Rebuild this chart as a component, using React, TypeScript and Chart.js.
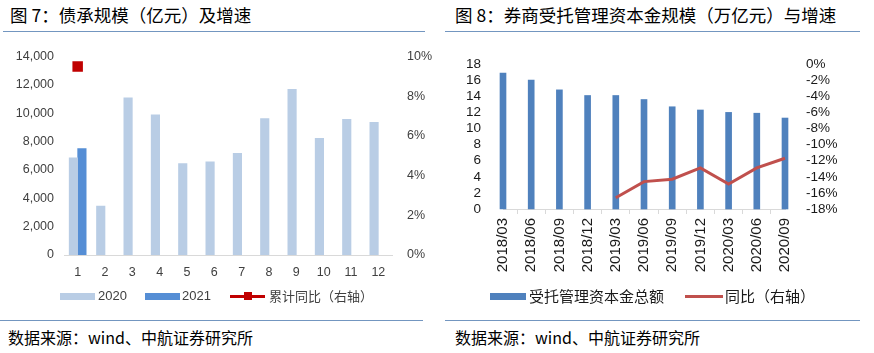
import React, { useEffect, useRef } from "react";
import { Chart, registerables } from "chart.js";

Chart.register(...registerables);

// ---------- Figure 7 data ----------
const months = ["1", "2", "3", "4", "5", "6", "7", "8", "9", "10", "11", "12"];
const issuance2020 = [6850, 3450, 11080, 9890, 6450, 6570, 7170, 9620, 11680, 8230, 9560, 9360];
const issuance2021 = [7500, null, null, null, null, null, null, null, null, null, null, null];
const cumulativeYoY = [9.5, null, null, null, null, null, null, null, null, null, null, null];

// ---------- Figure 8 data ----------
const quarters = ["2018/03", "2018/06", "2018/09", "2018/12", "2019/03", "2019/06", "2019/09", "2019/12", "2020/03", "2020/06", "2020/09"];
const entrustedCapital = [16.9, 16.0, 14.8, 14.1, 14.1, 13.6, 12.7, 12.3, 12.0, 11.9, 11.3];
const entrustedYoY = [null, null, null, null, -16.6, -14.6, -14.3, -12.9, -14.9, -12.9, -11.7];

const CJK = '"Noto Sans CJK SC", sans-serif';
const LAT = '"Liberation Sans", Arial, sans-serif';
const TICK = "#404040";
const TICK_R = "#1a1a1a";
const AXIS = "#d9d9d9";

function LeftChart() {
  const ref = useRef<HTMLCanvasElement>(null);
  useEffect(() => {
    const chart = new Chart(ref.current as HTMLCanvasElement, {
      type: "bar",
      data: {
        labels: months,
        datasets: [
          {
            type: "line",
            label: "累计同比（右轴）",
            data: cumulativeYoY,
            borderColor: "#c00000",
            backgroundColor: "#c00000",
            pointStyle: "rect",
            pointRadius: 6,
            borderWidth: 2,
            yAxisID: "y1",
            order: 0,
          } as any,
          {
            type: "bar",
            label: "2020",
            data: issuance2020,
            backgroundColor: "#b9cde5",
            barThickness: 8.5,
            yAxisID: "y",
            order: 1,
          },
          {
            type: "bar",
            label: "2021",
            data: issuance2021,
            backgroundColor: "#558ed5",
            barThickness: 8.5,
            yAxisID: "y",
            order: 1,
          },
        ],
      },
      options: {
        animation: false,
        responsive: false,
        layout: { padding: { top: 10, left: 0, right: 0, bottom: 0 } },
        plugins: { legend: { display: false }, tooltip: { enabled: false } },
        scales: {
          x: {
            offset: true,
            grid: { display: false, drawTicks: false },
            border: { display: true, color: AXIS, width: 1 },
            ticks: { color: TICK, font: { family: LAT, size: 12.5 }, padding: 10, maxRotation: 0, autoSkip: false },
            afterFit: (s: any) => { s.height = 39; },
          },
          y: {
            position: "left",
            min: 0,
            max: 14000,
            grid: { display: false, drawTicks: false },
            border: { display: false },
            ticks: {
              stepSize: 2000,
              autoSkip: false,
              color: TICK,
              font: { family: LAT, size: 12.5 },
              padding: 10,
              callback: (v: any) => Number(v).toLocaleString("en-US"),
            },
            afterFit: (s: any) => { s.width = 64; },
          },
          y1: {
            position: "right",
            min: 0,
            max: 10,
            grid: { display: false, drawTicks: false },
            border: { display: false },
            ticks: {
              stepSize: 2,
              autoSkip: false,
              color: TICK,
              font: { family: LAT, size: 12.5 },
              padding: 15,
              callback: (v: any) => v + "%",
            },
            afterFit: (s: any) => { s.width = 48; },
          },
        },
      } as any,
    });
    return () => chart.destroy();
  }, []);
  return <canvas ref={ref} width={440} height={260} style={{ position: "absolute", left: 0, top: 34, width: 440, height: 260 }} />;
}

function RightChart() {
  const ref = useRef<HTMLCanvasElement>(null);
  useEffect(() => {
    const chart = new Chart(ref.current as HTMLCanvasElement, {
      type: "bar",
      data: {
        labels: quarters,
        datasets: [
          {
            type: "line",
            label: "同比（右轴）",
            data: entrustedYoY,
            borderColor: "#c0504d",
            backgroundColor: "#c0504d",
            borderWidth: 3,
            pointRadius: 0,
            yAxisID: "y1",
            order: 0,
            clip: false,
          } as any,
          {
            type: "bar",
            label: "受托管理资本金总额",
            data: entrustedCapital,
            backgroundColor: "#4f81bd",
            barThickness: 6,
            yAxisID: "y",
            order: 1,
            clip: false,
          } as any,
        ],
      },
      options: {
        animation: false,
        responsive: false,
        layout: { padding: { top: 13, left: 0, right: 0, bottom: 0 } },
        plugins: { legend: { display: false }, tooltip: { enabled: false } },
        scales: {
          x: {
            offset: false,
            grid: { display: true, drawOnChartArea: false, drawTicks: true, tickLength: 5, color: AXIS },
            border: { display: true, color: AXIS, width: 1 },
            ticks: { color: TICK_R, font: { family: LAT, size: 15 }, padding: 4, minRotation: 90, maxRotation: 90, autoSkip: false },
            afterFit: (s: any) => { s.height = 75; },
          },
          y: {
            position: "left",
            min: 0,
            max: 18,
            grid: { display: false, drawTicks: false },
            border: { display: false },
            ticks: { stepSize: 2, autoSkip: false, color: TICK_R, font: { family: LAT, size: 13.5 }, padding: 22 },
            afterFit: (s: any) => { s.width = 63; },
          },
          y1: {
            position: "right",
            min: -18,
            max: 0,
            grid: { display: false, drawTicks: false },
            border: { display: false },
            ticks: {
              stepSize: 2,
              autoSkip: false,
              color: TICK_R,
              font: { family: LAT, size: 13.5 },
              padding: 21,
              callback: (v: any) => v + "%",
            },
            afterFit: (s: any) => { s.width = 89; },
          },
        },
      } as any,
    });
    return () => chart.destroy();
  }, []);
  return <canvas ref={ref} width={434} height={250} style={{ position: "absolute", left: 440, top: 34, width: 434, height: 250 }} />;
}

const abs = (o: React.CSSProperties): React.CSSProperties => ({ position: "absolute", ...o });

export default function App() {
  const rule = "#7396c0";
  return (
    <div style={{ position: "fixed", left: 0, top: 0, width: 874, height: 353, background: "#fff", overflow: "hidden", color: "#000" }}>
      {/* titles */}
      <div style={abs({ left: 10, top: 4, fontFamily: CJK, fontSize: 17.5, lineHeight: "22px", whiteSpace: "nowrap" })}>图 7：债承规模（亿元）及增速</div>
      <div style={abs({ left: 455, top: 4, fontFamily: CJK, fontSize: 17.5, lineHeight: "22px", whiteSpace: "nowrap" })}>图 8：券商受托管理资本金规模（万亿元）与增速</div>
      <div style={abs({ left: 3, top: 31, width: 422, height: 1, background: rule })} />
      <div style={abs({ left: 445, top: 31, width: 415, height: 1, background: rule })} />

      <LeftChart />
      <RightChart />

      {/* left legend */}
      <div style={abs({ left: 60, top: 293, width: 35, height: 7, background: "#b9cde5" })} />
      <div style={abs({ left: 98, top: 288, fontFamily: LAT, fontSize: 13, lineHeight: "16px", color: "#404040" })}>2020</div>
      <div style={abs({ left: 145, top: 293, width: 35, height: 7, background: "#558ed5" })} />
      <div style={abs({ left: 182, top: 288, fontFamily: LAT, fontSize: 13, lineHeight: "16px", color: "#404040" })}>2021</div>
      <div style={abs({ left: 230, top: 295, width: 35, height: 3, background: "#c00000" })} />
      <div style={abs({ left: 244, top: 292, width: 8, height: 8, background: "#c00000" })} />
      <div style={abs({ left: 269, top: 287, fontFamily: CJK, fontSize: 13, lineHeight: "18px", color: "#404040", whiteSpace: "nowrap" })}>累计同比（右轴）</div>

      {/* right legend */}
      <div style={abs({ left: 490, top: 293, width: 36, height: 7, background: "#4f81bd" })} />
      <div style={abs({ left: 529, top: 286, fontFamily: CJK, fontSize: 15, lineHeight: "20px", color: "#1a1a1a", whiteSpace: "nowrap" })}>受托管理资本金总额</div>
      <div style={abs({ left: 685, top: 295, width: 38, height: 3, background: "#c0504d" })} />
      <div style={abs({ left: 725, top: 286, fontFamily: CJK, fontSize: 15, lineHeight: "20px", color: "#1a1a1a", whiteSpace: "nowrap" })}>同比（右轴）</div>

      {/* source lines */}
      <div style={abs({ left: 0, top: 320, width: 423, height: 1, background: rule })} />
      <div style={abs({ left: 445, top: 320, width: 415, height: 1, background: rule })} />
      <div style={abs({ left: 8, top: 326, fontFamily: CJK, fontSize: 16, lineHeight: "22px", whiteSpace: "nowrap" })}>数据来源：wind、中航证券研究所</div>
      <div style={abs({ left: 455, top: 326, fontFamily: CJK, fontSize: 16, lineHeight: "22px", whiteSpace: "nowrap" })}>数据来源：wind、中航证券研究所</div>
    </div>
  );
}
